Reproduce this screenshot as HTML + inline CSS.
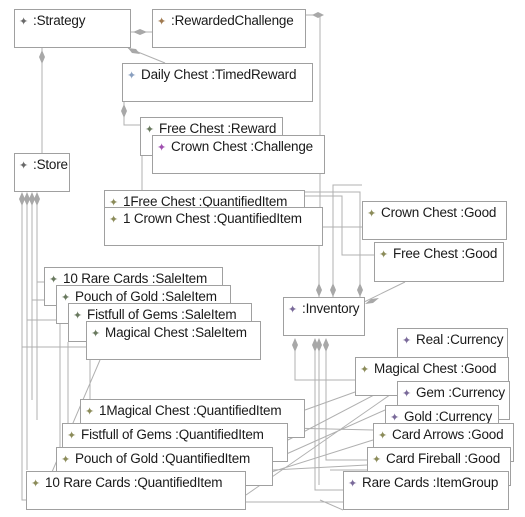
<!DOCTYPE html>
<html><head><meta charset="utf-8"><style>
body{margin:0;width:525px;height:517px;background:#fff;position:relative;overflow:hidden;font-family:"Liberation Sans",sans-serif}
.b{position:absolute;background:#fff;border:1px solid #a0a0a0;box-sizing:border-box;font-size:13.5px;color:#1a1a1a;white-space:nowrap;padding:2px 0 0 4px;line-height:17px;letter-spacing:-0.2px}
.b i{font-style:normal;font-size:11px;margin-right:5px}
.g i{color:#8c8c5a}.p i{color:#7a6a9a}.s i{color:#6a6a6a}.o i{color:#a07a50}.bl i{color:#8aa0c0}.m i{color:#a050b0}.gr i{color:#6a7a60}
svg{position:absolute;left:0;top:0}
</style></head><body>
<svg width="525" height="517" fill="none" stroke="#b0b0b0" stroke-width="1">
<path d="M131 32H152M128 48L165 63M42 48V153M124 102V125H140M142 156V190M306 15H320V207"/>
<path d="M305 192H360V297M305 196H342V255H374M323 227H362M319 246V297M333 297V185H362"/>
<path d="M37 200V282H44M32 200V300H56M27 200V320H68M22 200V347H86"/>
<path d="M22 347V500H26M27 320V470M32 300V400M37 282V420"/>
<path d="M68 342V440M60 324V460M90 360V399M100 360L40 500"/>
<path d="M295 345V380H355M315 345V490H343M319 345V485M326 345V460H367M330 470H397M305 410L355 392M288 440L397 383M273 460L385 410M246 495L397 390M246 502H343M288 428L373 430M273 470L367 465M246 480L373 440"/>
<path d="M360 304L405 282M320 500L343 510"/>
<g fill="#a8a8a8" stroke="none">
<path d="M133 32l7-3 7 3-7 3z"/><path d="M128 48l8 1 4 5-8-1z"/><path d="M42 50l3 7-3 7-3-7z"/>
<path d="M124 104l3 7-3 7-3-7z"/><path d="M312 15l6-3 6 3-6 3z"/>
<path d="M22 192l3 7-3 7-3-7z M27 192l3 7-3 7-3-7z M32 192l3 7-3 7-3-7z M37 192l3 7-3 7-3-7z"/>
<path d="M319 283l3 7-3 7-3-7z M333 283l3 7-3 7-3-7z M360 283l3 7-3 7-3-7z"/>
<path d="M295 338l3 7-3 7-3-7z M315 338l3 7-3 7-3-7z M319 338l3 7-3 7-3-7z M326 338l3 7-3 7-3-7z"/>
<path d="M365 304l6-5 8-1-6 5z"/>
</g>
</svg>
<div class="b s" style="left:14px;top:9px;width:117px;height:39px"><i>✦</i>:Strategy</div>
<div class="b o" style="left:152px;top:9px;width:154px;height:39px"><i>✦</i>:RewardedChallenge</div>
<div class="b bl" style="left:122px;top:63px;width:191px;height:39px"><i>✦</i>Daily Chest :TimedReward</div>
<div class="b gr" style="left:140px;top:117px;width:143px;height:39px"><i>✦</i>Free Chest :Reward</div>
<div class="b m" style="left:152px;top:135px;width:173px;height:39px"><i>✦</i>Crown Chest :Challenge</div>
<div class="b s" style="left:14px;top:153px;width:56px;height:39px"><i>✦</i>:Store</div>
<div class="b g" style="left:104px;top:190px;width:201px;height:39px"><i>✦</i>1Free Chest :QuantifiedItem</div>
<div class="b g" style="left:104px;top:207px;width:219px;height:39px"><i>✦</i>1 Crown Chest :QuantifiedItem</div>
<div class="b g" style="left:362px;top:201px;width:145px;height:39px"><i>✦</i>Crown Chest :Good</div>
<div class="b g" style="left:374px;top:242px;width:130px;height:40px"><i>✦</i>Free Chest :Good</div>
<div class="b p" style="left:283px;top:297px;width:82px;height:39px"><i>✦</i>:Inventory</div>
<div class="b gr" style="left:44px;top:267px;width:179px;height:39px"><i>✦</i>10 Rare Cards :SaleItem</div>
<div class="b gr" style="left:56px;top:285px;width:175px;height:39px"><i>✦</i>Pouch of Gold :SaleItem</div>
<div class="b gr" style="left:68px;top:303px;width:184px;height:39px"><i>✦</i>Fistfull of Gems :SaleItem</div>
<div class="b gr" style="left:86px;top:321px;width:175px;height:39px"><i>✦</i>Magical Chest :SaleItem</div>
<div class="b p" style="left:397px;top:328px;width:111px;height:39px"><i>✦</i>Real :Currency</div>
<div class="b g" style="left:355px;top:357px;width:154px;height:39px"><i>✦</i>Magical Chest :Good</div>
<div class="b p" style="left:397px;top:381px;width:113px;height:39px"><i>✦</i>Gem :Currency</div>
<div class="b p" style="left:385px;top:405px;width:114px;height:39px"><i>✦</i>Gold :Currency</div>
<div class="b g" style="left:373px;top:423px;width:141px;height:39px"><i>✦</i>Card Arrows :Good</div>
<div class="b g" style="left:367px;top:447px;width:144px;height:39px"><i>✦</i>Card Fireball :Good</div>
<div class="b p" style="left:343px;top:471px;width:166px;height:39px"><i>✦</i>Rare Cards :ItemGroup</div>
<div class="b g" style="left:80px;top:399px;width:225px;height:39px"><i>✦</i>1Magical Chest :QuantifiedItem</div>
<div class="b g" style="left:62px;top:423px;width:226px;height:39px"><i>✦</i>Fistfull of Gems :QuantifiedItem</div>
<div class="b g" style="left:56px;top:447px;width:217px;height:39px"><i>✦</i>Pouch of Gold :QuantifiedItem</div>
<div class="b g" style="left:26px;top:471px;width:220px;height:39px"><i>✦</i>10 Rare Cards :QuantifiedItem</div>
</body></html>
